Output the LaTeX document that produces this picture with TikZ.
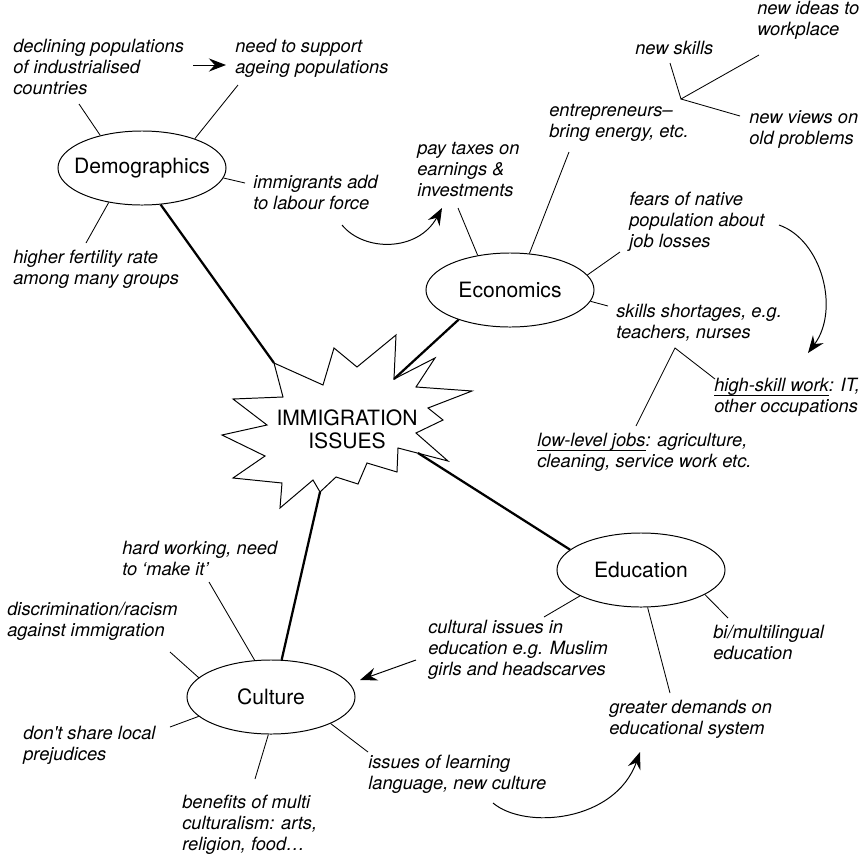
\documentclass[tikz,border=0pt]{standalone}
\usepackage{fontspec}
\setmainfont{TeX Gyre Heros}
\usetikzlibrary{arrows.meta,shapes.geometric}
\newcommand{\hubname}[1]{\makebox[0pt]{#1}}
\newcommand{\undl}[1]{\sbox0{#1}\rlap{\rule[-2.6pt]{\wd0}{0.45pt}}\usebox0}
\tikzset{
  hub/.style={ellipse, draw=black, line width=0.7pt, fill=white, minimum width=4.2cm, minimum height=1.85cm, inner sep=0pt, font=\fontsize{15}{17}\selectfont},
  leaf/.style={anchor=north west, inner sep=0pt, align=left, font=\fontsize{13}{15}\selectfont\itshape, execute at begin node=\strut},
  twig/.style={line width=0.6pt},
  trunk/.style={line width=1.6pt},
  burst/.style={draw=black, fill=white, line width=0.7pt, line join=miter},
  flowarrow/.style={-{Stealth[length=4.3mm, width=3.3mm, inset=1.5mm]}, line width=0.7pt}
}

\begin{document}
\begin{tikzpicture}[x=0.025cm, y=-0.025cm]
\useasboundingbox (0,0) rectangle (864,857);

% centre burst
\draw[burst] (274,363) coordinate (sDemo) -- (323,385) -- (334,348) -- (357,367) -- (396,335)
  -- (394,379) coordinate (sEcon) -- (435,358) -- (416,387) -- (472,391) -- (428,408) -- (443,420)
  -- (416,433) -- (448,461) -- (398,448) -- (397,472) -- (367,463) -- (358,484) -- (336,477)
  -- (320,492) coordinate (sCult) -- (313,480) -- (280,508) -- (282,483) -- (233,478) -- (265,456)
  -- (222,435) -- (267,425) -- (233,399) -- (283,397) -- cycle;
\coordinate (sEdu) at (418,453);
\node[align=center, inner sep=0pt, font=\fontsize{15}{16.5}\selectfont] (issues) at (347,429) {IMMIGRATION\\ISSUES};

\node[hub] (demo) at (142,168) {\hubname{Demographics}};
\node[hub] (econ) at (510,290) {\hubname{Economics}};
\node[hub] (edu) at (641,570) {\hubname{Education}};
\node[hub] (cult) at (271,697) {\hubname{Culture}};

\draw[trunk] (demo.-63) -- (sDemo);
\draw[trunk] (econ.-150) -- (sEcon);
\draw[trunk] (sEdu) -- (edu.164);
\draw[trunk] (sCult) -- (cult.74);

% demographics
\node[leaf] (d1) at (13,39) {declining populations\\of industrialised\\countries};
\node[leaf] (d2) at (235,39) {need to support\\ageing populations};
\node[leaf] (d3) at (253,175) {immigrants add\\to labour force};
\node[leaf] (d4) at (13,250) {higher fertility rate\\among many groups};
\coordinate (d1t) at (79,104);
\coordinate (d2t) at (238,85);
\coordinate (d3t) at (245,183);
\coordinate (d4t) at (86,243);
\draw[twig] (demo.142) -- (d1t);
\draw[twig] (demo.29) -- (d2t);
\draw[twig] (demo.-7) -- (d3t);
\draw[twig] (demo.-134) -- (d4t);
\coordinate (d12a) at (193,65);
\coordinate (d12b) at (226,65);
\draw[flowarrow] (d12a) -- (d12b);

% economics
\node[leaf] (e1) at (417,142) {pay taxes on\\earnings \&\\investments};
\node[leaf] (e2) at (549,104) {entrepreneurs–\\bring energy, etc.};
\node[leaf] (e3) at (635,39) {new skills};
\node[leaf] (e4) at (757,1) {new ideas to\\workplace};
\node[leaf] (e5) at (749,110) {new views on\\old problems};
\node[leaf] (e6) at (629,192) {fears of native\\population about\\job losses};
\node[leaf] (e7) at (616,304) {skills shortages, e.g.\\teachers, nurses};
\node[leaf] (e8) at (714,378) {\undl{high-skill work}: IT,\\other occupations};
\node[leaf] (e9) at (537,433) {\undl{low-level jobs}: agriculture,\\cleaning, service work etc.};
\coordinate (e1t) at (458,208);
\coordinate (e2t) at (569,152);
\coordinate (e6t) at (620,252);
\coordinate (e7t) at (608,306);
\draw[twig] (econ.133) -- (e1t);
\draw[twig] (econ.62) -- (e2t);
\draw[twig] (econ.11) -- (e6t);
\draw[twig] (econ.-8) -- (e7t);
\coordinate (k0) at (681,99);
\coordinate (e3t) at (670,63);
\coordinate (e4t) at (759,55);
\coordinate (e5t) at (740,116);
\draw[twig] (e3t) -- (k0) -- (e4t);
\draw[twig] (k0) -- (e5t);
\coordinate (s0) at (675,348);
\coordinate (e8t) at (715,379);
\coordinate (e9t) at (636,426);
\draw[twig] (e9t) -- (s0) -- (e8t);
\coordinate (d3a) at (342,225);
\coordinate (e1a) at (442,208);
\draw[flowarrow] (d3a) .. controls (364,252) and (418,252) .. (e1a);
\coordinate (e6a) at (779,225);
\coordinate (e8a) at (808,353);
\draw[flowarrow] (e6a) .. controls (822,240) and (840,310) .. (e8a);

% education
\node[leaf] (u1) at (428,620) {cultural issues in\\education e.g. Muslim\\girls and headscarves};
\node[leaf] (u2) at (713,625) {bi/multilingual\\education};
\node[leaf] (u3) at (609,700) {greater demands on\\educational system};
\coordinate (u1t) at (544,617);
\coordinate (u2t) at (728,618);
\coordinate (u3t) at (670,693);
\draw[twig] (edu.-157) -- (u1t);
\draw[twig] (edu.-21) -- (u2t);
\draw[twig] (edu.-80) -- (u3t);

% culture
\node[leaf] (c1) at (122,541) {hard working, need\\to `make it'};
\node[leaf] (c2) at (7,602) {discrimination/racism\\against immigration};
\node[leaf] (c3) at (23,726) {don\textquotesingle t share local\\prejudices};
\node[leaf] (c4) at (182,795) {benefits of multi\\culturalism: arts,\\religion, food…};
\node[leaf] (c5) at (368,755) {issues of learning\\language, new culture};
\coordinate (c1t) at (209,582);
\coordinate (c2t) at (170,652);
\coordinate (c3t) at (170,727);
\coordinate (c4t) at (255,779);
\coordinate (c5t) at (368,752);
\draw[twig] (cult.114) -- (c1t);
\draw[twig] (cult.165) -- (c2t);
\draw[twig] (cult.-165) -- (c3t);
\draw[twig] (cult.-94) -- (c4t);
\draw[twig] (cult.-24) -- (c5t);
\coordinate (u1a) at (416,660);
\coordinate (c0a) at (360,680);
\draw[flowarrow] (u1a) -- (c0a);
\coordinate (c5a) at (493,803);
\coordinate (u3a) at (640,752);
\draw[flowarrow] (c5a) .. controls (525,830) and (615,822) .. (u3a);
\end{tikzpicture}
\end{document}
